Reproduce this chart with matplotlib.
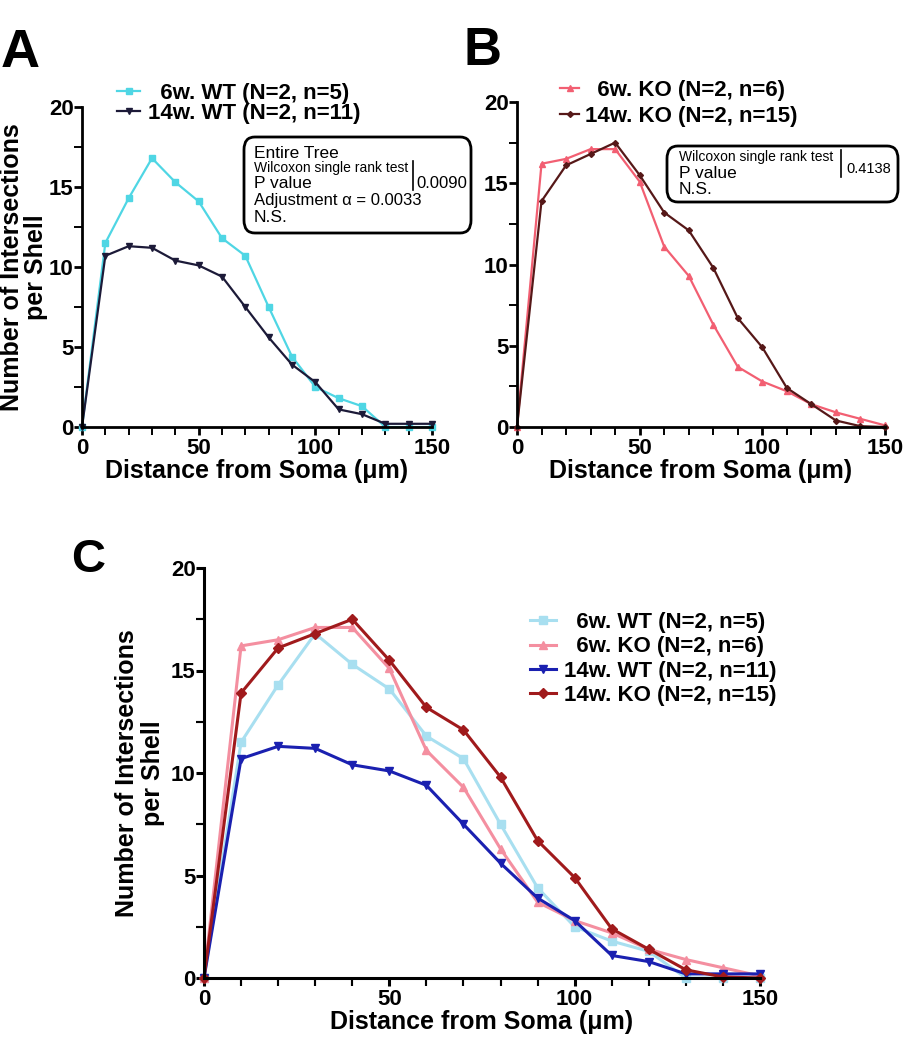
import matplotlib
matplotlib.use("Agg")
import matplotlib.pyplot as plt
from matplotlib.patches import FancyBboxPatch
from matplotlib.ticker import MultipleLocator

plt.rcParams["font.family"] = ["Liberation Sans", "DejaVu Sans"]
plt.rcParams["font.weight"] = "bold"

# data
dist = [0, 10, 20, 30, 40, 50, 60, 70, 80, 90, 100, 110, 120, 130, 140, 150]
wt6 = [0, 11.5, 14.3, 16.8, 15.3, 14.1, 11.8, 10.7, 7.5, 4.4, 2.5, 1.8, 1.3, 0.0, 0.0, 0.0]
wt14 = [0, 10.7, 11.3, 11.2, 10.4, 10.1, 9.4, 7.5, 5.6, 3.9, 2.8, 1.1, 0.8, 0.2, 0.2, 0.2]
ko6 = [0, 16.2, 16.5, 17.1, 17.1, 15.1, 11.1, 9.3, 6.3, 3.7, 2.8, 2.2, 1.4, 0.9, 0.5, 0.1]
ko14 = [0, 13.9, 16.1, 16.8, 17.5, 15.5, 13.2, 12.1, 9.8, 6.7, 4.9, 2.4, 1.4, 0.4, 0.05, 0.0]

lab_wt6 = "  6w. WT (N=2, n=5)"
lab_wt14 = "14w. WT (N=2, n=11)"
lab_ko6 = "  6w. KO (N=2, n=6)"
lab_ko14 = "14w. KO (N=2, n=15)"

W, H = 904, 1050
fig = plt.figure(figsize=(W / 100, H / 100), dpi=100)


def px_axes(l, t, r, b):
    return fig.add_axes([l / W, 1 - b / H, (r - l) / W, (b - t) / H])


def style(ax, fs, lw=2.0):
    for s in ["top", "right"]:
        ax.spines[s].set_visible(False)
    for s in ["left", "bottom"]:
        ax.spines[s].set_linewidth(lw)
    ax.set_xlim(0, 150)
    ax.set_ylim(0, 20)
    ax.xaxis.set_major_locator(MultipleLocator(50))
    ax.xaxis.set_minor_locator(MultipleLocator(10))
    ax.yaxis.set_major_locator(MultipleLocator(5))
    ax.yaxis.set_minor_locator(MultipleLocator(2.5))
    ax.tick_params(which="major", length=6, width=lw, labelsize=fs)
    ax.tick_params(axis="y", pad=0)
    ax.tick_params(axis="x", pad=2)
    ax.tick_params(which="minor", length=6, width=lw * 0.7)
    for t in ax.get_xticklabels() + ax.get_yticklabels():
        t.set_fontweight("bold")


def textbox(l, t, r, b):
    box = FancyBboxPatch((l / W, 1 - b / H), (r - l) / W, (b - t) / H,
                         boxstyle="round,pad=0,rounding_size=0.012",
                         transform=fig.transFigure, fill=False,
                         edgecolor="black", linewidth=2)
    fig.patches.append(box)


def ftext(x, y, s, size, va="center", **kw):
    fig.text(x / W, 1 - y / H, s, fontsize=size, va=va, **kw)


# ---- panel A ----
axA = px_axes(82, 107, 432, 427)
axA.plot(dist, wt6, color="#4fd6e4", marker="s", ms=4, lw=1.6, clip_on=False, label=lab_wt6)
axA.plot(dist, wt14, color="#1c1a38", marker="v", ms=4, lw=1.6, clip_on=False, label=lab_wt14)
style(axA, 16)
axA.set_xlabel("Distance from Soma (μm)", fontsize=18, fontweight="bold", labelpad=0)
axA.set_ylabel("Number of Intersections\nper Shell", fontsize=18, fontweight="bold", labelpad=1,
               linespacing=1.0)
axA.legend(loc="center left", bbox_to_anchor=(0.1, 1.011), frameon=False,
           handlelength=1.04, handletextpad=0.36, labelspacing=-0.05, borderpad=0,
           borderaxespad=0, prop={"weight": "bold", "size": 16})

textbox(244, 137, 471, 233)
ftext(254, 153, "Entire Tree", 12.5, fontweight="normal")
ftext(254, 168, "Wilcoxon single rank test", 10, fontweight="normal")
ftext(254, 184, "P value", 12.5, fontweight="normal")
ftext(416, 184, "0.0090", 12, fontweight="normal")
ftext(254, 201, "Adjustment α = 0.0033", 12, fontweight="normal")
ftext(254, 218, "N.S.", 12.5, fontweight="normal")
fig.add_artist(plt.Line2D([413 / W, 413 / W], [1 - 161 / H, 1 - 190 / H], color="black", lw=1.2))

# ---- panel B ----
axB = px_axes(517, 102, 885, 427)
axB.plot(dist, ko6, color="#f25f72", marker="^", ms=4, lw=1.6, clip_on=False, label=lab_ko6)
axB.plot(dist, ko14, color="#561818", marker="D", ms=3, lw=1.6, clip_on=False, label=lab_ko14)
style(axB, 16)
axB.set_xlabel("Distance from Soma (μm)", fontsize=18, fontweight="bold", labelpad=0)
axB.legend(loc="center left", bbox_to_anchor=(0.117, 0.995), frameon=False,
           handlelength=0.86, handletextpad=0.27, labelspacing=0.22, borderpad=0,
           borderaxespad=0, prop={"weight": "bold", "size": 16})

textbox(667, 146, 898, 202)
ftext(679, 157, "Wilcoxon single rank test", 10, fontweight="normal")
ftext(679, 173, "P value", 12.5, fontweight="normal")
ftext(679, 190, "N.S.", 12.5, fontweight="normal")
ftext(846, 169, "0.4138", 10.5, fontweight="normal")
fig.add_artist(plt.Line2D([841 / W, 841 / W], [1 - 150 / H, 1 - 177 / H], color="black", lw=1.2))

# ---- panel C ----
axC = px_axes(204, 568, 760, 978)
axC.plot(dist, wt6, color="#a8dff0", marker="s", ms=6, lw=2.2, clip_on=False, label=lab_wt6)
axC.plot(dist, ko6, color="#f48fa0", marker="^", ms=6, lw=2.2, clip_on=False, label=lab_ko6)
axC.plot(dist, wt14, color="#1a20b0", marker="v", ms=6, lw=2.2, clip_on=False, label=lab_wt14)
axC.plot(dist, ko14, color="#a01a1c", marker="D", ms=5, lw=2.2, clip_on=False, label=lab_ko14)
style(axC, 16, lw=2.2)
axC.set_xlabel("Distance from Soma (μm)", fontsize=18, fontweight="bold", labelpad=0)
axC.set_ylabel("Number of Intersections\nper Shell", fontsize=18, fontweight="bold", labelpad=4,
               linespacing=1.1)
axC.legend(loc="center left", bbox_to_anchor=(0.586, 0.778), frameon=False,
           handlelength=1.2, handletextpad=0.36, labelspacing=0.15, borderpad=0,
           borderaxespad=0, prop={"weight": "bold", "size": 16})

# panel letters
ftext(1, 67, "A", 39, va="baseline", fontweight="bold")
ftext(464, 65, "B", 38, va="baseline", fontweight="bold")
ftext(71, 572, "C", 34, va="baseline", fontweight="bold")

fig.savefig("out.png", dpi=100)
